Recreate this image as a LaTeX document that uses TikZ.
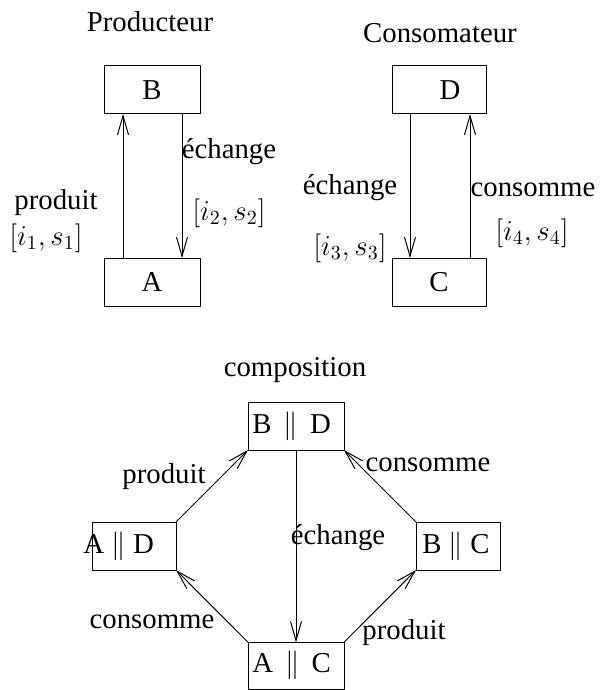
\documentclass[tikz,border=0pt]{standalone}
\usepackage{fontspec}
\setmainfont{Liberation Serif}
\usetikzlibrary{arrows.meta}
\tikzset{
  box/.style={draw, line width=0.5pt, inner sep=0pt, outer sep=0pt,
    minimum width=48pt, minimum height=24pt},
  lbl/.style={inner sep=0pt}
}
\newcommand{\parop}{\ \,$\|$\ \,}
\begin{document}
\begin{tikzpicture}[x=0.5pt, y=-0.5pt, >={Straight Barb[length=9.5pt,width=5.5pt]},
    line join=round, line cap=round, font=\fontsize{14.4pt}{17pt}\selectfont]
  \useasboundingbox (0,0) rectangle (602,690);
  % producteur
  \node[lbl] (prod) at (150,22) {Producteur};
  \node[box] (b) at (152,90) {B};
  \node[box] (a) at (152,282) {A};
  \draw[->, line width=0.5pt] ([xshift=-14.5pt]a.north) -- ([xshift=-14.5pt]b.south);
  \draw[->, line width=0.5pt] ([xshift=15pt]b.south) -- ([xshift=15pt]a.north);
  \node[lbl] at (56,203) {produit};
  \node[lbl] at (46,238) {$[i_1,s_1]$};
  \node[lbl] at (229,152) {échange};
  \node[lbl] at (229,213) {$[i_2,s_2]$};
  % consomateur
  \node[lbl] (cons) at (440,33) {Consomateur};
  \node[box, minimum width=47pt] (d) at (439,90) {\hspace*{11pt}D};
  \node[box, minimum width=47pt] (c) at (439,282) {C};
  \draw[->, line width=0.5pt] ([xshift=-14.5pt]d.south) -- ([xshift=-14.5pt]c.north);
  \draw[->, line width=0.5pt] ([xshift=15.5pt]c.north) -- ([xshift=15.5pt]d.south);
  \node[lbl] at (350,188) {échange};
  \node[lbl] at (350,248) {$[i_3,s_3]$};
  \node[lbl] at (533,190) {consomme};
  \node[lbl] at (532,233) {$[i_4,s_4]$};
  % composition
  \node[lbl] (compo) at (295,370) {composition};
  \node[box] (bd) at (296,426) {};
  \node[box, minimum width=42pt] (ad) at (134,546) {};
  \node[box, minimum width=42pt] (bc) at (458,546) {};
  \node[box, minimum height=23.5pt] (ac) at (296,665.75) {};
  \node[lbl, anchor=west] at ([xshift=2pt]bd.west) {B\parop D};
  \node[lbl, anchor=west] at ([xshift=-4.5pt]ad.west) {A $\|$ D};
  \node[lbl, anchor=west] at ([xshift=3pt]bc.west) {B $\|$ C};
  \node[lbl, anchor=west] at ([xshift=2pt]ac.west) {A\parop C};
  \draw[->, line width=0.5pt] (ad.north east) -- (bd.south west);
  \draw[->, line width=0.5pt] (bc.north west) -- (bd.south east);
  \draw[->, line width=0.5pt] (ac.north west) -- (ad.south east);
  \draw[->, line width=0.5pt] (ac.north east) -- (bc.south west);
  \draw[->, line width=0.5pt] (bd.south) -- (ac.north);
  \node[lbl] at (164,477) {produit};
  \node[lbl] at (428,465) {consomme};
  \node[lbl] at (338,538) {échange};
  \node[lbl] at (152,622) {consomme};
  \node[lbl] at (404,633) {produit};
\end{tikzpicture}
\end{document}
